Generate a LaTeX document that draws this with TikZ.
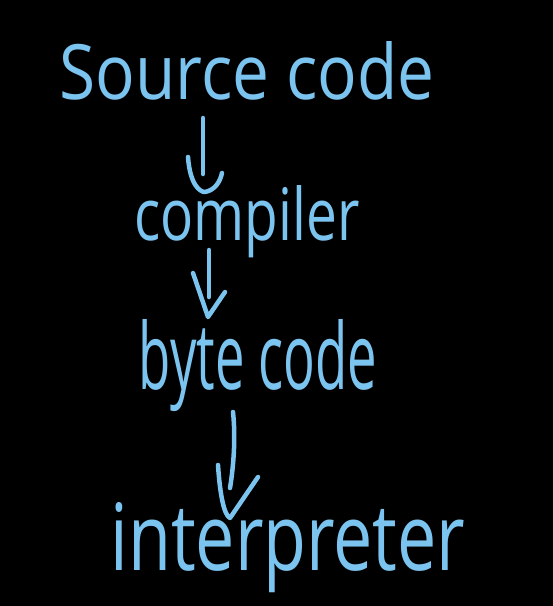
\documentclass[tikz,border=0pt]{standalone}
\usepackage{fontspec}
\setmainfont{Open Sans}
\usepackage{graphicx}
\definecolor{chalk}{HTML}{7CC4F0}
\begin{document}
\begin{tikzpicture}[x=1pt,y=-1pt,
  chalktext/.style={text=chalk, inner sep=0pt, anchor=center},
  stroke/.style={draw=chalk, line width=4.5pt, line cap=round, line join=round}]
\fill[black] (0,0) rectangle (553,606);
\useasboundingbox (0,0) rectangle (553,606);
\node[chalktext] (src) at (247,71) {\resizebox{375pt}{58pt}{Source code}};
\node[chalktext] (comp) at (247,222) {\resizebox{225pt}{55pt}{compiler}};
\node[chalktext] (byte) at (258,366) {\resizebox{238pt}{70pt}{byte code}};
\node[chalktext] (interp) at (288,548) {\resizebox{355pt}{68pt}{interpreter}};
% arrow 1
\coordinate (a1s) at (203,118); \coordinate (a1e) at (203,174);
\coordinate (a1l) at (188,157); \coordinate (a1b) at (205,192); \coordinate (a1r) at (222,173);
\draw[stroke] (a1s) -- (a1e);
\draw[stroke] (a1l) .. controls (190,185) and (200,192) .. (a1b) .. controls (215,190) and (220,182) .. (a1r);
% arrow 2
\coordinate (a2s) at (209,250); \coordinate (a2e) at (209,297);
\coordinate (a2l) at (193,273); \coordinate (a2b) at (208,317); \coordinate (a2r) at (225,292);
\draw[stroke] (a2s) -- (a2e);
\draw[stroke] (a2l) -- (a2b) -- (a2r);
% arrow 3
\coordinate (a3s) at (233,412); \coordinate (a3e) at (230,488);
\coordinate (a3l) at (218,465); \coordinate (a3b) at (230,518); \coordinate (a3r) at (258,477);
\draw[stroke] (a3s) .. controls (236,440) and (233,470) .. (a3e);
\draw[stroke] (a3l) .. controls (220,495) and (224,515) .. (a3b) -- (a3r);
\end{tikzpicture}
\end{document}
